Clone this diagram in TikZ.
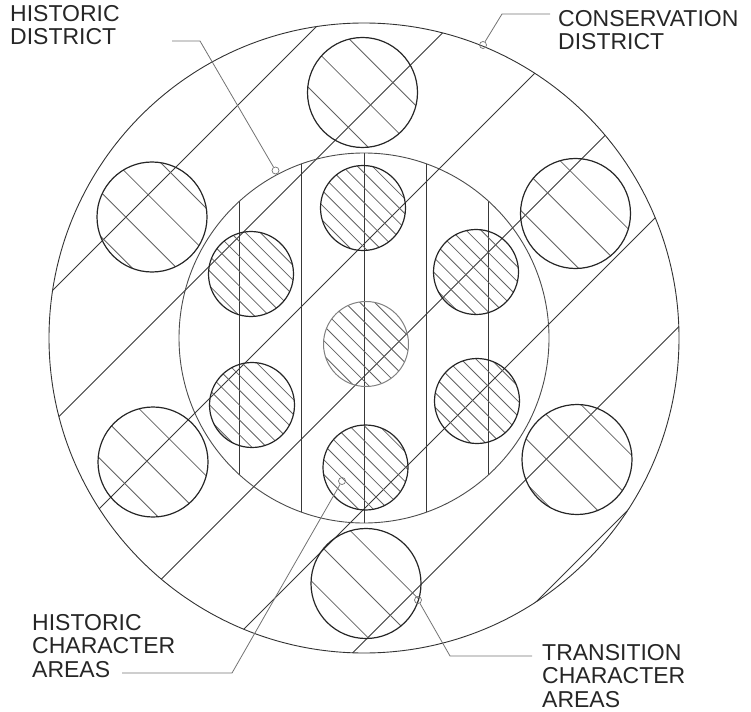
\documentclass[tikz,border=0pt]{standalone}
\usepackage{fontspec}
\setmainfont{Liberation Sans}
\newcommand\hatchc[4]{%
  \begin{scope}
    \clip (#1,#2) circle[radius=#3];
    \pgfmathtruncatemacro\kmin{floor((#1-#2-1.5*#3-221)/#4)}
    \pgfmathtruncatemacro\kmax{ceil((#1-#2+1.5*#3-221)/#4)}
    \foreach \k in {\kmin,...,\kmax}{
      \pgfmathsetmacro\hdval{221+#4*\k}
      \draw[hatchline] ({\hdval+#2-#3-3},{#2-#3-3}) -- ({\hdval+#2+#3+3},{#2+#3+3});
    }
  \end{scope}}
\begin{document}
\begin{tikzpicture}[x=1pt,y=-1pt,
  bigcirc/.style={draw=black!80, line width=0.9pt},
  smallcirc/.style={draw=black!85, line width=1.2pt},
  centercirc/.style={draw=black!50, line width=1.0pt},
  hatchline/.style={draw=black!62, line width=0.8pt},
  guide/.style={draw=black!78, line width=0.85pt},
  leader/.style={draw=black!55, line width=0.8pt},
  marker/.style={circle, draw=black!55, line width=0.7pt, minimum size=7pt, inner sep=0pt},
  lbl/.style={anchor=base west, inner sep=0pt, font=\fontsize{23}{23}\selectfont, text=black!85}]
\useasboundingbox (0,0) rectangle (751,711);
\coordinate (C) at (364,338);
% diagonal chords of outer circle
\begin{scope}
  \clip (C) circle[radius=315];
  \foreach \k in {0,...,6}{
    \pgfmathsetmacro\cc{343+132.5*\k}
    \draw[guide] ({\cc-800},800) -- ({\cc+100},-100);
  }
\end{scope}
% vertical lines in historic district
\begin{scope}
  \clip (C) circle[radius=185];
  \foreach \k in {-2,...,2}{
    \draw[guide] ({364+62.25*\k},100) -- ({364+62.25*\k},600);
  }
\end{scope}
% hatching
\hatchc{362.5}{92.5}{55}{44.6}
\hatchc{152}{217}{55}{44.6}
\hatchc{575.5}{213.5}{55}{44.6}
\hatchc{153}{462}{55}{44.6}
\hatchc{577}{459.5}{55}{44.6}
\hatchc{366}{583.5}{55}{44.6}
\hatchc{363}{208}{42.5}{14.87}
\hatchc{251}{274}{42.5}{14.87}
\hatchc{476}{272}{42.5}{14.87}
\hatchc{252}{405}{42.5}{14.87}
\hatchc{477}{401}{42.5}{14.87}
\hatchc{365.5}{467.5}{42.5}{14.87}
\hatchc{366}{344}{42.5}{14.87}
% main circles
\draw[bigcirc] (C) circle[radius=315];
\draw[bigcirc, draw=black!70] (C) circle[radius=185];
% outer ring circles
\foreach \p in {(362.5,92.5),(152,217),(575.5,213.5),(153,462),(577,459.5),(366,583.5)}
  \draw[smallcirc] \p circle[radius=55];
% inner ring circles
\foreach \p in {(363,208),(251,274),(476,272),(252,405),(477,401),(365.5,467.5)}
  \draw[smallcirc] \p circle[radius=42.5];
\draw[centercirc] (366,344) circle[radius=42.5];
% markers
\node[marker] (mHD) at (275.5,170.5) {};
\node[marker] (mCD) at (483,45) {};
\node[marker] (mHCA) at (342,481) {};
\node[marker] (mTCA) at (418,600) {};
% leader bend points
\coordinate (hdA) at (172,41);
\coordinate (hdB) at (200,41);
\coordinate (cdA) at (550,14);
\coordinate (cdB) at (502,14);
\coordinate (hcaA) at (122,673);
\coordinate (hcaB) at (232,673);
\coordinate (tcaA) at (532,656);
\coordinate (tcaB) at (450,656);
\draw[leader] (hdA) -- (hdB) -- (mHD);
\draw[leader] (cdA) -- (cdB) -- (mCD);
\draw[leader] (hcaA) -- (hcaB) -- (mHCA);
\draw[leader] (tcaA) -- (tcaB) -- (mTCA);
% labels
\node[lbl] (hd1) at (10,22) {HISTORIC};
\node[lbl] (hd2) at (10,45) {DISTRICT};
\node[lbl] (cd1) at (558,27) {CONSERVATION};
\node[lbl] (cd2) at (558,50) {DISTRICT};
\node[lbl] (hca1) at (32,630) {HISTORIC};
\node[lbl] (hca2) at (32,653) {CHARACTER};
\node[lbl] (hca3) at (32,677) {AREAS};
\node[lbl] (tca1) at (542,660) {TRANSITION};
\node[lbl] (tca2) at (542,683) {CHARACTER};
\node[lbl] (tca3) at (542,707) {AREAS};
\end{tikzpicture}
\end{document}
